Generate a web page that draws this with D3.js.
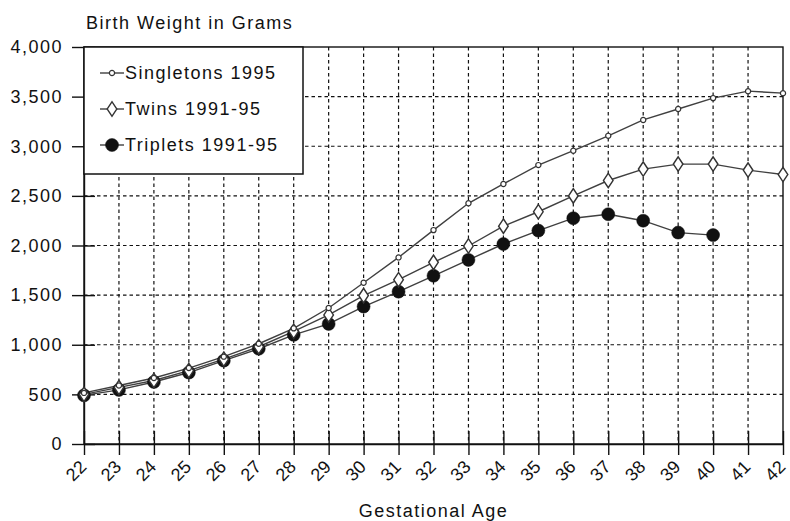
<!DOCTYPE html>
<html>
<head>
<meta charset="utf-8">
<script src="https://cdn.jsdelivr.net/npm/d3@7"></script>
<style>
  html, body { margin: 0; padding: 0; background: #fff; }
  svg { display: block; }
  text { font-family: "Liberation Sans", Arial, Helvetica, sans-serif; fill: #111; }
</style>
</head>
<body>
<svg id="chart" width="790" height="521"></svg>
<script>
// Gestational age in completed weeks
const weeks = [22, 23, 24, 25, 26, 27, 28, 29, 30, 31, 32, 33, 34, 35, 36, 37, 38, 39, 40, 41, 42];

// Mean birth weight (grams) by gestational age
const singletons = [515, 590, 665, 765, 880, 1010, 1165, 1370, 1625, 1880, 2155, 2425, 2620, 2810, 2955, 3105, 3265, 3375, 3485, 3555, 3535];
const twins      = [500, 570, 640, 740, 855, 980, 1135, 1300, 1495, 1655, 1830, 1995, 2195, 2340, 2500, 2655, 2770, 2820, 2820, 2760, 2715];
const triplets   = [490, 545, 625, 720, 840, 960, 1100, 1210, 1385, 1535, 1695, 1855, 2015, 2150, 2275, 2315, 2250, 2130, 2105];

const seriesNames = ["Singletons 1995", "Twins 1991-95", "Triplets 1991-95"];
const yTicks = [0, 500, 1000, 1500, 2000, 2500, 3000, 3500, 4000];

const svg = d3.select("#chart");
const plotLeft = 84, plotRight = 783, plotTop = 47, plotBottom = 444;

const x = d3.scaleLinear().domain([22, 42]).range([plotLeft, plotRight]);
const y = d3.scaleLinear().domain([0, 4000]).range([plotBottom, plotTop]);

const fmt = d3.format(",");
const letter = "1.5px";

// dashed grid
svg.append("g").selectAll("line")
  .data(yTicks.filter(v => v > 0 && v < 4000))
  .join("line")
  .attr("x1", plotLeft).attr("x2", plotRight)
  .attr("y1", d => y(d)).attr("y2", d => y(d))
  .attr("stroke", "#111").attr("stroke-width", 1.2).attr("stroke-dasharray", "3.5,3");

svg.append("g").selectAll("line")
  .data(weeks.filter(w => w > 22 && w < 42))
  .join("line")
  .attr("x1", d => x(d)).attr("x2", d => x(d))
  .attr("y1", plotTop).attr("y2", plotBottom)
  .attr("stroke", "#111").attr("stroke-width", 1.2).attr("stroke-dasharray", "3.5,3");

// frame
svg.append("rect")
  .attr("x", plotLeft).attr("y", plotTop)
  .attr("width", plotRight - plotLeft).attr("height", plotBottom - plotTop)
  .attr("fill", "none").attr("stroke", "#111").attr("stroke-width", 1.4);

// y axis
const yAxis = d3.axisLeft(y).tickValues(yTicks).tickFormat(fmt).tickSizeInner(12).tickSizeOuter(0).tickPadding(9);
const gy = svg.append("g").attr("transform", `translate(${plotLeft},0)`).call(yAxis);
gy.select(".domain").attr("stroke", "#111").attr("stroke-width", 1.4);
gy.selectAll(".tick line").attr("stroke", "#111").attr("stroke-width", 1.4)
  .attr("x1", 11);
gy.selectAll(".tick text")
  .attr("font-size", 18).attr("letter-spacing", letter)
  .style("font-family", "'Liberation Sans', Arial, sans-serif").attr("fill", "#111");

// x axis with slanted week labels
const xAxis = d3.axisBottom(x).tickValues(weeks).tickSizeInner(11).tickSizeOuter(0);
const gx = svg.append("g").attr("transform", `translate(0,${plotBottom})`).call(xAxis);
gx.select(".domain").attr("stroke", "#111").attr("stroke-width", 1.4);
gx.selectAll(".tick line").attr("stroke", "#111").attr("stroke-width", 1.4).attr("y1", -13);
gx.selectAll(".tick text")
  .attr("font-size", 18)
  .style("font-family", "'Liberation Sans', Arial, sans-serif").attr("fill", "#111")
  .attr("text-anchor", "end")
  .attr("dy", null)
  .attr("transform", "translate(3,24) rotate(-45)")
  .attr("x", 0).attr("y", 0);

// titles
svg.append("text").attr("x", 86).attr("y", 29)
  .attr("font-size", 18).attr("letter-spacing", letter)
  .text("Birth Weight in Grams");
svg.append("text").attr("x", (plotLeft + plotRight) / 2).attr("y", 517)
  .attr("text-anchor", "middle")
  .attr("font-size", 18).attr("letter-spacing", letter)
  .text("Gestational Age");

// series
const lineColor = "#404040";
const line = d3.line().x(d => x(d[0])).y(d => y(d[1]));
const data = [singletons, twins, triplets].map(vals => vals.map((v, i) => [weeks[i], v]));

const gs = svg.append("g");
data.forEach(pts => {
  gs.append("path").datum(pts).attr("d", line)
    .attr("fill", "none").attr("stroke", lineColor).attr("stroke-width", 1.4);
});

const diamond = d3.symbol().type(d3.symbolDiamond).size(60);

function drawMarker(sel, kind) {
  if (kind === 0) {
    sel.append("circle").attr("r", 2.6).attr("fill", "#fff").attr("stroke", "#333").attr("stroke-width", 1.2);
  } else if (kind === 1) {
    sel.append("path").attr("d", diamond).attr("transform", "scale(1.15,1)")
      .attr("fill", "#fff").attr("stroke", "#333").attr("stroke-width", 1.3);
  } else {
    sel.append("circle").attr("r", 6.5).attr("fill", "#111").attr("stroke", "#111").attr("stroke-width", 0.5);
  }
}

// triplets underneath, singletons on top
[2, 1, 0].forEach(k => {
  const g = gs.append("g");
  data[k].forEach(p => {
    const m = g.append("g").attr("transform", `translate(${x(p[0])},${y(p[1])})`);
    drawMarker(m, k);
  });
});

// legend
const lg = svg.append("g");
lg.append("rect").attr("x", plotLeft).attr("y", plotTop).attr("width", 219).attr("height", 127)
  .attr("fill", "#fff").attr("stroke", "#111").attr("stroke-width", 1.5);
const legendY = [73, 109, 145];
seriesNames.forEach((name, k) => {
  const yy = legendY[k];
  lg.append("line").attr("x1", 100).attr("x2", 124).attr("y1", yy).attr("y2", yy)
    .attr("stroke", lineColor).attr("stroke-width", 1.4);
  drawMarker(lg.append("g").attr("transform", `translate(112,${yy})`), k);
  lg.append("text").attr("x", 125).attr("y", yy).attr("dy", "0.36em")
    .attr("font-size", 18).attr("letter-spacing", letter)
    .text(name);
});
</script>
</body>
</html>
